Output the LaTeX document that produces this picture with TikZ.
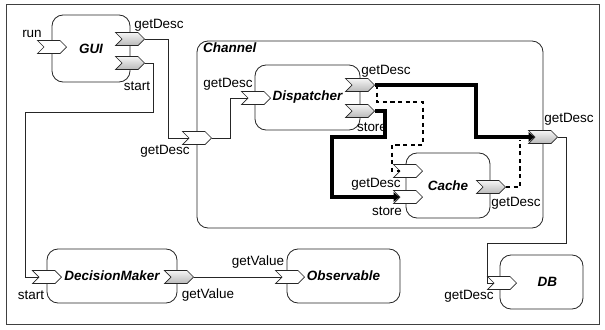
\documentclass[tikz,border=0pt]{standalone}
\usepackage{fontspec}
\setmainfont{Liberation Sans}
\usetikzlibrary{shapes.symbols,arrows.meta,calc}
\newcommand{\lblsize}{\fontsize{11.5}{13}\selectfont}
\tikzstyle{comp} = [draw=black!85, line width=0.7pt, rounded corners=0.33cm, inner sep=0pt, font=\lblsize\bfseries\itshape]
\tikzstyle{port} = [signal, signal from=west, signal to=east, draw=black!85, line width=0.6pt, minimum width=0.87cm, minimum height=0.39cm, inner sep=0pt]
\tikzstyle{inport} = [port, fill=white]
\tikzstyle{outport} = [port, top color=gray!8, bottom color=gray!55]
\tikzstyle{wire} = [draw=black!85, line width=0.7pt]
\tikzstyle{bus} = [line width=2.6pt, -{Triangle[length=5pt,width=8pt]}]
\tikzstyle{deleg} = [line width=1.8pt, dash pattern=on 3.5pt off 3pt]
\tikzstyle{lbl} = [inner sep=0pt]

\begin{document}
\begin{tikzpicture}[x=0.03cm, y=-0.03cm, font=\lblsize]
\useasboundingbox (0,0) rectangle (605,329);
\draw[draw=black!75, line width=0.7pt] (6,4) rectangle (599,324);
% components
\node[comp, minimum width=2.34cm, minimum height=2.01cm] (gui) at (91,48.5) {GUI};
\node[comp, minimum width=10.38cm, minimum height=5.61cm] (chan) at (370,134.5) {};
\node[lbl, anchor=west, font=\lblsize\bfseries\itshape] (chanlbl) at (203,48) {Channel};
\node[comp, minimum width=3.15cm, minimum height=1.95cm] (disp) at (307.5,97.5) {Dispatcher};
\node[comp, minimum width=2.52cm, minimum height=1.95cm] (cache) at (448,185.5) {Cache};
\node[comp, minimum width=3.9cm, minimum height=1.62cm] (dm) at (112,276) {DecisionMaker};
\node[comp, minimum width=3.39cm, minimum height=1.62cm] (obs) at (343.5,276) {Observable};
\node[comp, minimum width=2.49cm, minimum height=1.62cm] (db) at (541.5,282) {\hspace{10pt}DB};
% ports
\node[inport] (run) at (52,47) {};
\node[outport] (guidesc) at (130,39) {};
\node[outport] (guistart) at (130,63) {};
\node[inport] (chanin) at (197,138) {};
\node[inport] (dispin) at (256,98) {};
\node[outport] (dispdesc) at (360,85) {};
\node[outport] (dispstore) at (360,111) {};
\node[inport] (cachedesc) at (408,171) {};
\node[inport] (cachestore) at (408,197) {};
\node[outport] (cacheout) at (491,187) {};
\node[outport] (chanout) at (543,137) {};
\node[inport] (dmstart) at (47,277) {};
\node[outport] (dmval) at (179,277) {};
\node[inport] (obsin) at (290,277) {};
\node[inport] (dbin) at (502,283) {};
% port labels
\node[lbl] (runlbl) at (32,34) {run};
\node[lbl] (guidesclbl) at (159,25) {getDesc};
\node[lbl] (guistartlbl) at (137,86) {start};
\node[lbl] (chaninlbl) at (165,151) {getDesc};
\node[lbl] (dispinlbl) at (228,84) {getDesc};
\node[lbl] (dispdesclbl) at (386,71) {getDesc};
\node[lbl] (dispstorelbl) at (372,127) {store};
\node[lbl] (cachedesclbl) at (376,184) {getDesc};
\node[lbl] (cachestorelbl) at (387,211) {store};
\node[lbl] (cacheoutlbl) at (516,203) {getDesc};
\node[lbl] (chanoutlbl) at (569,119) {getDesc};
\node[lbl] (dmstartlbl) at (31,295) {start};
\node[lbl] (dmvallbl) at (208,295) {getValue};
\node[lbl] (obsinlbl) at (258,262) {getValue};
\node[lbl] (dbinlbl) at (469,296) {getDesc};
% connectors
\draw[wire] (guidesc.east) -| (168,138) -- (chanin.west);
\draw[wire] (guistart.east) -| (153,112) -| (25,277) -- (dmstart.west);
\draw[wire] (chanin.east) -| (230,98) -- (dispin.west);
\draw[wire] (chanout.east) -| (566,243) -| (487,283) -- (dbin.west);
\draw[wire] (dmval.east) -- (obsin.west);
\draw[bus] (dispdesc.east) -| (476,137) -- (chanout.west);
\draw[bus] (dispstore.east) -| (385,137) -| (332,197) -- (cachestore.west);
\coordinate (fwd) at (377,85);
\coordinate (ret) at (520,140);
\draw[deleg] (fwd) |- (423,102) |- (392,145) |- (cachedesc.west);
\draw[deleg] (cacheout.east) -| (ret);
\end{tikzpicture}
\end{document}
